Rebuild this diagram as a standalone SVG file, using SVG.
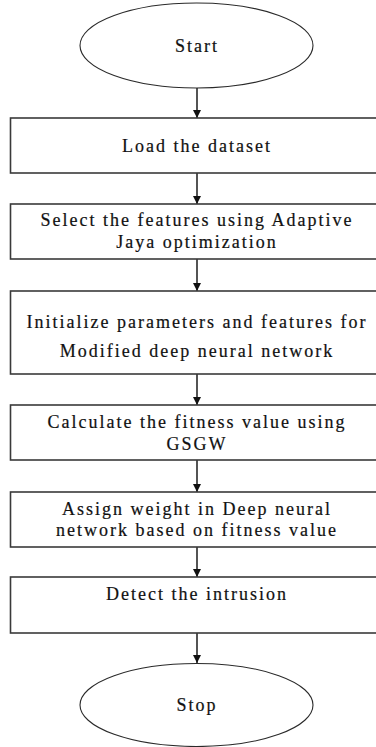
<svg xmlns="http://www.w3.org/2000/svg" width="376" height="747" viewBox="0 0 376 747">
<style>
.box{fill:#fff;stroke:#3a3a3a;stroke-width:1.6}
.term{fill:#fff;stroke:#2a2a2a;stroke-width:1.1}
.t{font-size:18px;letter-spacing:2px;fill:#111;stroke:#111;stroke-width:0.2;text-anchor:middle}
.c{stroke:#2a2a2a;stroke-width:1.6;fill:none}
</style>
<defs>
<marker id="ah" viewBox="0 0 10 10" refX="10" refY="5" markerWidth="8" markerHeight="10" markerUnits="userSpaceOnUse" orient="auto">
<path d="M0,0 L10,5 L0,10 Z" fill="#111"/>
</marker>
</defs>
<rect width="376" height="747" fill="#fff"/>
<g id="connectors">
<line class="c" x1="197" y1="88" x2="197" y2="118" marker-end="url(#ah)"/>
<line class="c" x1="197" y1="173" x2="197" y2="204" marker-end="url(#ah)"/>
<line class="c" x1="197" y1="259" x2="197" y2="291" marker-end="url(#ah)"/>
<line class="c" x1="197" y1="374" x2="197" y2="405" marker-end="url(#ah)"/>
<line class="c" x1="197" y1="460" x2="197" y2="492" marker-end="url(#ah)"/>
<line class="c" x1="197" y1="547" x2="197" y2="577" marker-end="url(#ah)"/>
<line class="c" x1="197" y1="633" x2="197" y2="663" marker-end="url(#ah)"/>
</g>
<g font-family="'Liberation Serif', 'Times New Roman', 'DejaVu Serif', serif">
<g id="start">
<ellipse class="term" cx="196.5" cy="45.5" rx="116.5" ry="42.5"/>
<text class="t" x="197" y="52">Start</text>
</g>
<g id="load">
<rect class="box" x="10.5" y="118" width="380" height="55"/>
<text class="t" x="197" y="152">Load the dataset</text>
</g>
<g id="select">
<rect class="box" x="10.5" y="204" width="380" height="55"/>
<text class="t" x="197" y="226">Select the features using Adaptive</text>
<text class="t" x="197" y="248">Jaya optimization</text>
</g>
<g id="init">
<rect class="box" x="10.5" y="291" width="380" height="83"/>
<text class="t" x="197" y="328">Initialize parameters and features for</text>
<text class="t" x="197" y="357">Modified deep neural network</text>
</g>
<g id="fitness">
<rect class="box" x="10.5" y="405" width="380" height="55"/>
<text class="t" x="197" y="428">Calculate the fitness value using</text>
<text class="t" x="197" y="450">GSGW</text>
</g>
<g id="assign">
<rect class="box" x="10.5" y="492" width="380" height="55"/>
<text class="t" x="197" y="515">Assign weight in Deep neural</text>
<text class="t" x="197" y="536">network based on fitness value</text>
</g>
<g id="detect">
<rect class="box" x="10.5" y="577" width="380" height="56"/>
<text class="t" x="197" y="600">Detect the intrusion</text>
</g>
<g id="stop">
<ellipse class="term" cx="196.5" cy="705" rx="116.5" ry="41.5"/>
<text class="t" x="197" y="711">Stop</text>
</g>
</g>
</svg>
